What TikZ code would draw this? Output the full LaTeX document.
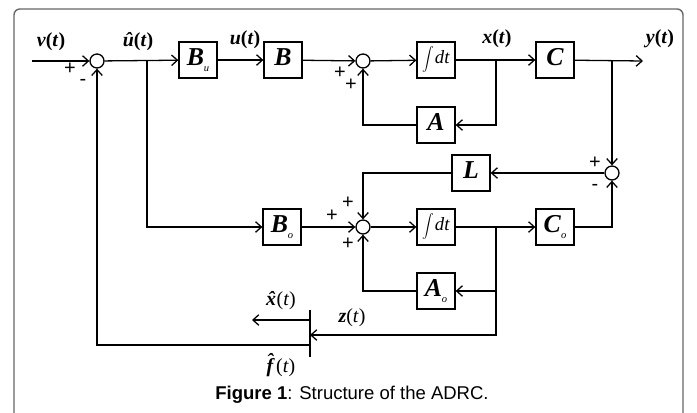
\documentclass[tikz,border=0pt]{standalone}
\usepackage{fontspec}
\setmainfont{Liberation Serif}
\newfontfamily\capfont{Liberation Sans}
\usetikzlibrary{arrows.meta,calc}
\newcommand{\sig}[1]{\textbf{\textit{#1}(\textit{t})}}
\newcommand{\blab}[2]{\textbf{\textit{#1}}\raisebox{-5pt}{\fontsize{9}{9}\selectfont\textit{#2}}}
\newcommand{\hatl}[2]{\ooalign{#1\cr\hidewidth\raisebox{#2}{ˆ}\hidewidth\cr}}
\newcommand{\intg}{{\fontsize{13}{13}\selectfont$\displaystyle\int$}\kern1pt{\fontsize{16}{18}\selectfont\textit{dt}}}

\begin{document}
\begin{tikzpicture}[x=0.03cm, y=-0.03cm, line width=1.1pt,
  >={Straight Barb[length=5pt,width=9pt]},
  blk/.style={draw, fill=white, minimum width=1.14cm, minimum height=1.08cm,
    inner sep=0pt, font=\fontsize{22}{24}\selectfont},
  sum/.style={draw, circle, minimum size=0.42cm, inner sep=0pt},
  sgn/.style={font=\capfont\fontsize{17}{17}\selectfont, inner sep=0pt},
  lbl/.style={font=\fontsize{17}{19}\selectfont, inner sep=0pt}]

% ===== page and frame, 697 x 412 px =====
\def\W{697} \def\H{412}
\useasboundingbox (0,0) rectangle (\W,\H);
\draw[black!60, line width=1.2pt, rounded corners=5pt] (14,9) rectangle (683,440);

% ============ plant: top row ============
\node[sum] (s1) at (97,61) {};
\node[blk] (Bu) at (198,60) {\blab{B}{u}};
\node[blk] (B) at (283,60) {\blab{B}{}};
\node[sum] (s2) at (363,61) {};
\node[blk] (I1) at (436,60) {\intg};
\node[blk] (C) at (555,60) {\blab{C}{}};
\node[blk] (A) at (436,125) {\blab{A}{}};
\coordinate (vin) at (32,61);
\coordinate (ub) at (147,61);
\coordinate (xb) at (496,61);
\coordinate (yb) at (612,61);
\coordinate (yout) at (643,61);

% ============ observer: lower rows ============
\node[blk] (L) at (471,173) {\blab{L}{}};
\node[sum] (s3) at (612,173) {};
\node[blk] (Bo) at (282,227) {\blab{B}{o}};
\node[sum] (s4) at (363,227) {};
\node[blk] (I2) at (436,227) {\intg};
\node[blk] (Co) at (555,227) {\blab{C}{o}};
\node[blk] (Ao) at (436,291) {\blab{A}{o}};
\coordinate (zb) at (496,227);
\coordinate (bt) at (310,310);
\coordinate (bb) at (310,357);
\coordinate (bx) at (310,320);
\coordinate (bz) at (310,335);
\coordinate (bf) at (310,345);
\coordinate (xout) at (252,320);

% ============ connectors ============
\draw[->] (vin) -- (s1);
\draw[->] (s1) -- (Bu);
\draw[->] (Bu) -- (B);
\draw[->] (B) -- (s2);
\draw[->] (s2) -- (I1);
\draw[->] (I1) -- (C);
\draw[->] (C) -- (yout);
\draw[->] (xb) |- (A);
\draw[->] (A) -| (s2);
\draw[->] (yb) -- (s3);
\draw[->] (s3) -- (L);
\draw[->] (L) -| (s4);
\draw[->] (ub) |- (Bo);
\draw[->] (Bo) -- (s4);
\draw[->] (s4) -- (I2);
\draw[->] (I2) -- (Co);
\draw[->] (Co) -| (s3);
\draw[->] (zb) |- (Ao);
\draw[->] (Ao) -| (s4);
\draw[->] (zb) |- (bz);
\draw (bt) -- (bb);
\draw[->] (bx) -- (xout);
\draw[->] (bf) -| (s1);

% ============ signal labels ============
\node[lbl] (lv) at (51,42) {\sig{v}};
\node[lbl] (lu1) at (138,42) {\sig{\^{u}}};
\node[lbl] (lu) at (245,40) {\sig{u}};
\node[lbl] (lx) at (497,39) {\sig{x}};
\node[lbl] (ly) at (660,39) {\sig{y}};
\node[lbl] (lz) at (352,318) {\textbf{\textit{z}}(\textit{t})};
\node[lbl] (lxh) at (281,301) {\textbf{\textit{\hatl{x}{0pt}}}\kern0.5pt(\textit{t})};
\node[lbl] (lfh) at (281,368) {\textbf{\textit{\hatl{f}{5pt}}}\kern2.5pt(\textit{t})};

% ============ signs ============
\node[sgn] (p1) at (70,69) {+};
\node[sgn] (m1) at (83,82) {-};
\node[sgn] (p2) at (340,73) {+};
\node[sgn] (p3) at (351,85) {+};
\node[sgn] (p4) at (595,163) {+};
\node[sgn] (m4) at (595,187) {-};
\node[sgn] (p5) at (332,216) {+};
\node[sgn] (p6) at (348,203) {+};
\node[sgn] (p7) at (348,244) {+};

% ============ caption ============
\node[font=\capfont\fontsize{15.8}{18}\selectfont] (cap) at (352,395)
  {\textbf{Figure 1}: Structure of the ADRC.};

\end{tikzpicture}
\end{document}
